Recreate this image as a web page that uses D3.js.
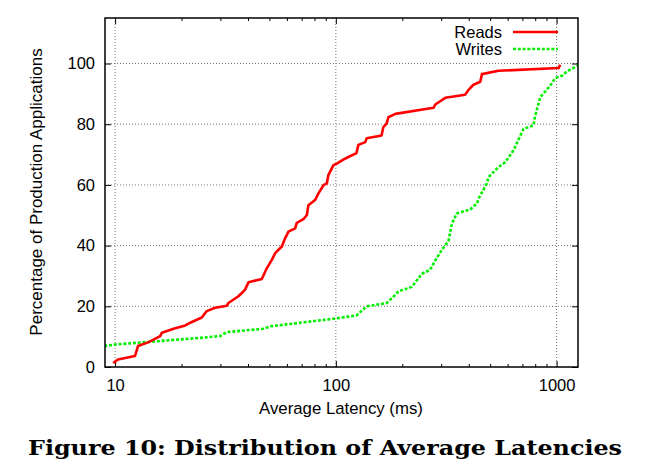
<!DOCTYPE html>
<html>
<head>
<meta charset="utf-8">
<script src="https://cdn.jsdelivr.net/npm/d3@7"></script>
<style>
  body { margin: 0; background: #fff; }
  svg { display: block; }
</style>
</head>
<body>
<div id="chart"></div>
<script>
// values (latency in ms, percentage of applications)
const readsLatency = [9.8, 10.3, 12.3, 12.7, 14.2, 16.0, 16.3, 18.4, 20.8, 21.9, 24.7, 26.0, 28.4, 32.1, 32.6, 36.2, 37.5, 38.8, 40.2, 46.2, 48.7, 51.3, 53.1, 56.9, 58.9, 61.0, 65.4, 66.5, 71.3, 73.9, 75.1, 80.5, 83.4, 87.9, 91.0, 92.5, 97.5, 101, 108, 114, 124, 126.5, 136, 138, 161, 164, 170, 173, 186, 277, 282, 313, 385, 399, 420, 451, 459, 545, 1021, 1038];
const readsPct = [1.3, 2.5, 3.6, 6.9, 8.2, 10.2, 11.3, 12.6, 13.7, 14.6, 16.3, 18.4, 19.5, 20.2, 21.1, 23.3, 24.4, 25.5, 27.9, 29.0, 32.6, 35.3, 37.5, 39.7, 42.4, 44.6, 45.7, 47.5, 48.7, 50.1, 53.3, 55.0, 57.2, 59.9, 60.5, 63.2, 66.5, 67.0, 68.3, 69.2, 70.5, 73.2, 74.1, 75.4, 76.3, 79.0, 80.3, 82.3, 83.4, 85.4, 86.5, 88.7, 89.7, 91.3, 93.0, 94.0, 96.5, 97.6, 98.5, 99.6];

const writesLatency = [8.5, 10, 24.3, 29.9, 32.1, 47.0, 50.4, 97.5, 124, 138, 170, 182, 192, 221, 229, 245, 267, 282, 302, 324, 335, 353, 406, 436, 443, 483, 492, 546, 585, 638, 708, 786, 800, 843, 935, 986, 1057, 1114, 1236, 1300];
const writesPct = [6.7, 7.4, 9.6, 10.2, 11.5, 12.6, 13.4, 15.9, 17.0, 20.0, 21.1, 23.1, 24.9, 26.4, 27.9, 30.7, 32.0, 35.1, 38.6, 41.6, 47.1, 50.6, 51.9, 53.9, 55.5, 60.5, 62.6, 65.9, 67.5, 71.4, 78.5, 79.6, 82.9, 88.9, 92.7, 95.2, 96.0, 97.4, 99.2, 100];

const xMajor = [10, 100, 1000];
const xMinor = [20, 30, 40, 50, 60, 70, 80, 90, 200, 300, 400, 500, 600, 700, 800, 900];
const yTicks = [0, 20, 40, 60, 80, 100];

const series = [
  { name: "Reads", xs: readsLatency, ys: readsPct, color: "#ff0000", dash: null },
  { name: "Writes", xs: writesLatency, ys: writesPct, color: "#00ee00", dash: "3,1.8" }
];

const width = 645, height = 469;
const plot = { left: 105, right: 578, top: 18, bottom: 367 };
const font = "'Liberation Sans', Arial, Helvetica, sans-serif";

const svg = d3.select("#chart").append("svg")
  .attr("width", width)
  .attr("height", height);

const x = d3.scaleLog().domain([9, 1250]).range([plot.left, plot.right]);
const y = d3.scaleLinear().domain([0, 115]).range([plot.bottom, plot.top]);

svg.append("defs").append("clipPath").attr("id", "plot-clip")
  .append("rect")
  .attr("x", plot.left).attr("y", plot.top)
  .attr("width", plot.right - plot.left).attr("height", plot.bottom - plot.top);

// dotted grid
const gridG = svg.append("g")
  .attr("stroke", "#777")
  .attr("stroke-width", 1)
  .attr("stroke-dasharray", "1,2");
xMajor.forEach(v => {
  gridG.append("line")
    .attr("x1", x(v)).attr("x2", x(v))
    .attr("y1", plot.top).attr("y2", plot.bottom);
});
yTicks.filter(v => v > 0).forEach(v => {
  gridG.append("line")
    .attr("x1", plot.left).attr("x2", plot.right)
    .attr("y1", y(v)).attr("y2", y(v));
});

// axes: ticks pointing inward on all four sides
function styleAxis(g) {
  g.select(".domain").remove();
  g.attr("font-family", null).attr("font-size", null);
  g.selectAll(".tick line").attr("stroke", "#000").attr("stroke-width", 1);
  g.selectAll(".tick text")
    .attr("fill", "#000")
    .style("font-family", font)
    .style("font-size", "16.5px");
}

svg.append("g")
  .attr("transform", `translate(0,${plot.bottom})`)
  .call(d3.axisBottom(x).tickValues(xMajor).tickFormat(d3.format("d")).tickSize(-6).tickPadding(12))
  .call(styleAxis);
svg.append("g")
  .attr("transform", `translate(0,${plot.bottom})`)
  .call(d3.axisBottom(x).tickValues(xMinor).tickFormat("").tickSize(-3))
  .call(styleAxis);
svg.append("g")
  .attr("transform", `translate(0,${plot.top})`)
  .call(d3.axisTop(x).tickValues(xMajor).tickFormat("").tickSize(-6))
  .call(styleAxis);
svg.append("g")
  .attr("transform", `translate(0,${plot.top})`)
  .call(d3.axisTop(x).tickValues(xMinor).tickFormat("").tickSize(-3))
  .call(styleAxis);
svg.append("g")
  .attr("transform", `translate(${plot.left},0)`)
  .call(d3.axisLeft(y).tickValues(yTicks).tickSize(-6).tickPadding(10))
  .call(styleAxis);
svg.append("g")
  .attr("transform", `translate(${plot.right},0)`)
  .call(d3.axisRight(y).tickValues(yTicks).tickFormat("").tickSize(-6))
  .call(styleAxis);

// data lines
const line = d3.line()
  .x(d => x(d[0]))
  .y(d => y(d[1]));

const linesG = svg.append("g").attr("clip-path", "url(#plot-clip)");
series.slice().reverse().forEach(s => {
  const pts = s.xs.map((v, i) => [v, s.ys[i]]);
  linesG.append("path")
    .datum(pts)
    .attr("d", line)
    .attr("fill", "none")
    .attr("stroke", s.color)
    .attr("stroke-width", 2.6)
    .attr("stroke-linejoin", "round")
    .attr("stroke-dasharray", s.dash);
});

// frame
svg.append("rect")
  .attr("x", plot.left).attr("y", plot.top)
  .attr("width", plot.right - plot.left).attr("height", plot.bottom - plot.top)
  .attr("fill", "none")
  .attr("stroke", "#000")
  .attr("stroke-width", 1.5);

// legend
const legendG = svg.append("g");
series.forEach((s, i) => {
  const ly = 32 + i * 17;
  legendG.append("text")
    .attr("x", 502).attr("y", ly + 6)
    .attr("text-anchor", "end")
    .style("font-family", font)
    .style("font-size", "16.5px")
    .text(s.name);
  legendG.append("line")
    .attr("x1", 513).attr("x2", 558)
    .attr("y1", ly).attr("y2", ly)
    .attr("stroke", s.color)
    .attr("stroke-width", 2.6)
    .attr("stroke-dasharray", s.dash);
});

// axis titles
svg.append("text")
  .attr("x", 341).attr("y", 414)
  .attr("text-anchor", "middle")
  .style("font-family", font)
  .style("font-size", "16.8px")
  .text("Average Latency (ms)");

svg.append("text")
  .attr("transform", "translate(42,192) rotate(-90)")
  .attr("text-anchor", "middle")
  .style("font-family", font)
  .style("font-size", "17px")
  .text("Percentage of Production Applications");

// figure caption
svg.append("text")
  .attr("x", 28).attr("y", 455)
  .attr("textLength", 594)
  .attr("lengthAdjust", "spacingAndGlyphs")
  .style("font-family", "'DejaVu Serif', 'Liberation Serif', serif")
  .style("font-weight", "bold")
  .style("font-size", "21px")
  .text("Figure 10: Distribution of Average Latencies");
</script>
</body>
</html>
